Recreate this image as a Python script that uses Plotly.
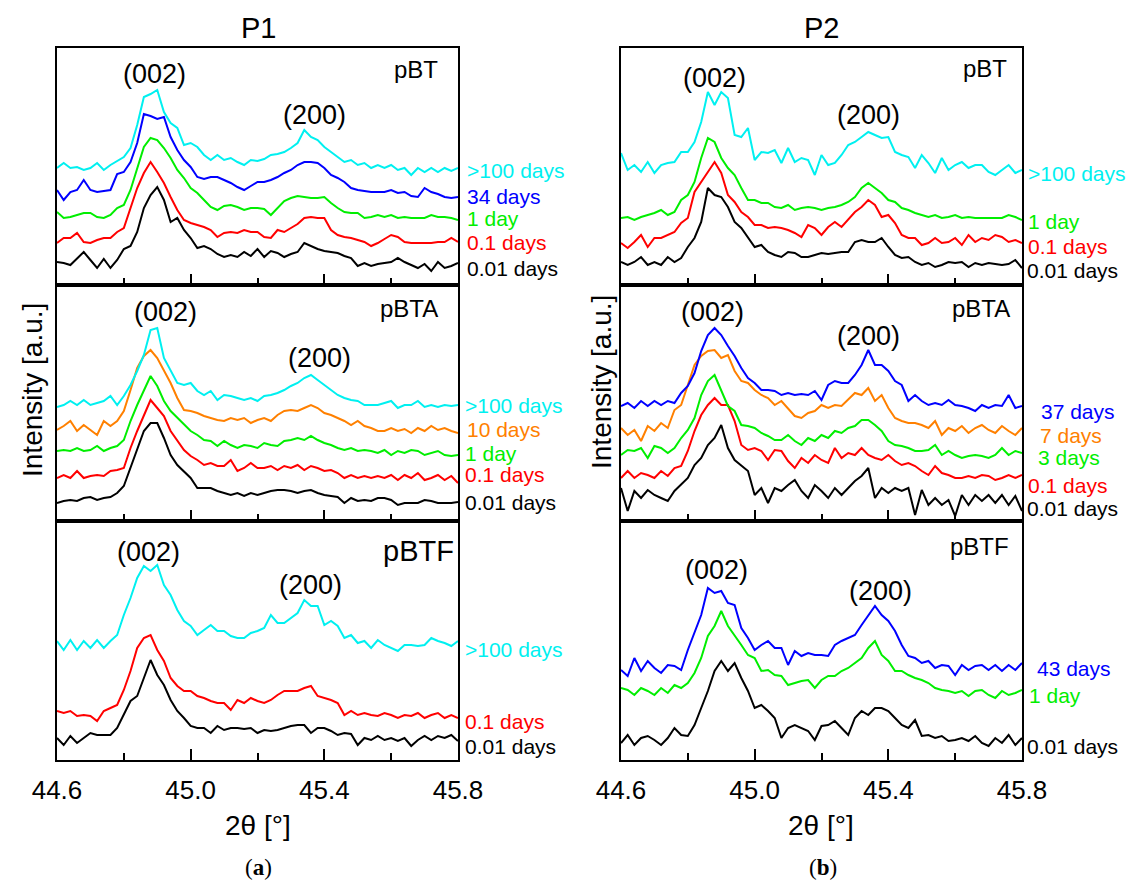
import plotly.graph_objects as go

W, H = 1142, 881

# 2-theta grid (degrees)
two_theta = [round(44.6 + 0.02 * i, 2) for i in range(61)]

# ---------------- P1 / pBT ----------------
p1_pbt_100d = [117,122,117,118,115,117,122,115,120,124,128,137,160,188,191,195,173,162,157,140,142,138,130,125,130,125,127,123,120,125,124,126,130,131,133,137,142,155,148,145,138,133,128,123,125,120,122,117,120,117,120,115,117,110,117,113,117,113,117,114,117]
p1_pbt_34d = [95,85,93,95,105,95,93,94,95,111,113,123,142,171,169,166,168,148,135,125,118,108,106,108,108,105,102,98,95,99,103,103,105,108,112,115,120,123,123,122,117,110,107,103,97,95,94,93,93,93,95,92,93,89,88,97,93,91,88,87,88]
p1_pbt_1d = [73,67,68,70,72,72,68,67,70,77,80,95,117,138,147,145,137,127,115,107,97,92,85,78,75,79,80,78,75,77,77,76,70,77,84,87,89,88,87,87,88,82,77,73,72,72,67,68,70,68,70,67,68,67,67,67,70,68,68,67,65]
p1_pbt_01d = [42,47,47,52,43,42,45,47,47,53,57,77,97,112,123,113,102,88,75,65,62,60,58,55,48,52,53,52,55,53,53,48,47,55,53,57,61,67,68,67,67,55,50,48,47,45,43,39,42,46,50,48,43,42,42,42,42,43,43,47,43]
p1_pbt_001d = [23,22,20,26,33,25,17,26,17,25,36,39,53,77,90,98,85,63,67,55,47,37,39,36,31,28,30,28,33,29,36,28,34,32,28,31,33,42,39,36,34,33,32,29,27,19,22,19,21,22,23,27,23,20,17,21,14,23,17,19,22]

# ---------------- P1 / pBTA ----------------
p1_pbta_100d = [114,116,120,116,121,116,118,120,125,116,125,136,150,166,191,193,163,150,138,136,138,130,126,130,121,126,125,123,121,123,120,125,126,128,131,135,138,143,146,141,136,131,126,123,121,120,116,116,116,118,120,113,116,116,120,114,116,114,116,115,116]
p1_pbta_10d = [91,95,100,90,96,91,86,100,95,100,110,131,153,165,171,163,150,138,123,111,110,108,105,103,101,100,103,101,103,98,101,103,100,106,110,111,110,113,116,113,108,106,103,100,96,100,95,93,90,90,93,90,92,88,93,90,95,91,93,90,88]
p1_pbta_1d = [70,71,70,73,70,71,75,70,73,75,81,100,116,131,145,135,120,110,103,96,90,86,81,80,75,80,76,73,76,75,73,78,76,75,80,81,83,81,85,81,78,76,73,71,73,70,71,70,68,71,66,70,68,71,70,66,68,70,66,65,66]
p1_pbta_01d = [43,46,43,50,43,45,46,45,50,51,53,73,90,106,121,113,105,90,80,71,65,61,56,58,55,55,61,50,53,58,53,53,55,51,55,53,56,51,55,53,50,51,48,43,46,43,45,43,45,43,46,41,46,43,48,41,43,46,41,45,38]
p1_pbta_001d = [18,20,21,20,23,24,21,23,24,28,35,53,71,90,98,98,83,66,56,50,43,33,33,33,30,28,26,28,25,28,26,28,30,31,31,30,28,30,31,28,26,25,24,18,23,20,21,20,23,23,21,16,18,18,18,21,20,18,18,18,19]

# ---------------- P1 / pBTF ----------------
p1_pbtf_100d = [119,110,120,110,119,112,120,112,119,125,145,162,182,194,189,195,175,165,150,139,134,125,130,135,129,129,124,122,122,127,129,132,145,137,137,142,147,160,154,154,135,139,134,122,125,117,119,112,120,115,112,109,115,115,114,115,122,119,117,114,119]
p1_pbtf_01d = [49,47,49,44,45,44,39,49,52,55,70,89,112,122,125,110,99,82,74,69,69,64,62,59,57,57,50,60,57,62,59,57,60,65,69,69,69,72,74,64,62,60,57,45,49,45,47,45,44,47,45,42,45,44,47,42,45,47,42,45,42]
p1_pbtf_001d = [22,15,24,17,22,27,25,25,25,32,45,59,64,82,100,85,75,60,49,42,34,32,32,27,34,30,32,32,31,32,27,30,29,30,32,34,35,35,27,32,32,29,25,27,26,15,22,20,24,20,22,19,22,14,20,24,20,24,22,25,19]

# ---------------- P2 / pBT ----------------
p2_pbt_100d = [132,115,120,113,123,112,120,122,123,133,133,143,163,193,180,193,187,150,148,157,125,133,132,135,122,137,123,127,125,110,130,120,122,130,140,143,148,153,150,147,148,133,130,128,117,130,122,112,127,115,120,123,117,120,120,113,110,115,120,112,115]
p2_pbt_1d = [67,68,65,68,70,72,75,70,73,85,90,103,127,147,143,127,117,110,97,85,85,82,82,78,77,80,75,77,78,77,75,77,78,80,83,88,97,102,97,92,85,83,77,75,72,70,68,70,67,68,70,67,68,67,67,67,67,67,70,68,65]
p2_pbt_01d = [42,37,43,50,38,47,47,50,53,62,67,93,103,113,123,112,90,83,73,68,60,60,57,58,57,55,52,48,60,57,50,58,63,58,65,73,78,85,80,68,70,62,50,47,47,40,42,47,42,43,47,40,50,43,47,45,50,48,43,45,42]
p2_pbt_001d = [23,20,23,28,20,23,20,28,23,27,38,47,63,97,90,88,78,63,57,47,38,40,33,30,28,33,32,28,28,30,32,31,32,33,33,43,45,43,43,47,38,30,27,28,23,20,22,18,20,23,22,23,18,22,20,22,21,20,21,25,17]

# ---------------- P2 / pBTA ----------------
p2_pbta_37d = [115,118,113,120,115,120,116,120,118,128,135,148,170,186,193,186,175,165,153,143,138,131,131,130,126,128,126,127,126,130,121,136,140,138,138,146,156,171,156,156,150,140,136,120,126,120,116,118,116,121,116,115,113,110,116,113,116,115,126,113,115]
p2_pbta_7d = [93,86,91,80,95,90,98,93,111,116,136,156,165,170,171,163,166,150,140,138,131,126,123,116,120,113,105,103,108,110,116,113,116,115,121,128,126,133,120,126,113,103,100,98,98,96,93,100,86,93,90,95,88,93,96,91,88,95,90,86,93]
p2_pbta_3d = [66,71,70,73,63,75,73,68,73,83,91,103,126,140,146,130,115,110,96,95,93,88,85,81,81,86,80,76,83,80,86,83,90,88,93,95,101,101,96,90,80,76,75,73,70,70,71,76,66,70,66,63,65,66,65,63,66,73,66,70,68]
p2_pbta_01d = [43,50,43,48,46,43,50,45,53,55,70,90,106,116,123,116,116,100,76,71,73,70,61,71,70,60,53,63,58,66,61,58,73,63,68,66,73,66,63,61,66,60,56,58,55,50,46,55,48,46,43,43,45,43,46,45,41,43,46,43,46]
p2_pbta_001d = [33,10,30,23,31,26,23,20,30,36,43,56,63,76,83,96,73,61,55,50,26,33,18,33,30,36,41,30,23,36,30,23,33,26,33,40,45,53,23,33,28,33,30,33,6,31,16,23,16,21,5,26,16,26,20,26,18,26,16,25,10]

# ---------------- P2 / pBTF ----------------
p2_pbtf_43d = [90,84,102,89,99,92,87,95,94,90,110,127,145,172,167,169,157,155,132,122,110,115,119,112,112,95,109,104,107,105,105,104,115,119,122,125,135,144,154,145,139,129,115,104,102,97,99,92,95,94,85,95,90,94,95,90,95,89,95,90,97]
p2_pbtf_1d = [72,70,65,72,69,65,72,67,75,72,77,87,102,124,134,149,134,125,115,105,102,89,90,85,84,75,77,79,80,72,80,84,84,89,92,97,102,112,119,105,99,89,89,85,82,80,77,72,70,69,67,69,64,69,70,65,62,69,65,67,70]
p2_pbtf_001d = [17,25,15,22,24,20,15,22,32,25,24,35,52,69,89,99,89,97,82,69,52,55,49,42,22,32,35,32,29,20,34,35,39,32,25,42,49,45,52,52,49,42,35,32,40,24,25,22,24,19,20,22,19,24,17,14,22,17,25,15,22]

CYAN = "#00F0F0"
BLUE = "#0000FF"
GREEN = "#00EE00"
RED = "#FF0000"
BLACK = "#000000"
ORANGE = "#FF8000"

# panel index -> list of (series, color)
panels = {
    1: [(p1_pbt_001d, BLACK), (p1_pbt_01d, RED), (p1_pbt_1d, GREEN), (p1_pbt_34d, BLUE), (p1_pbt_100d, CYAN)],
    2: [(p1_pbta_001d, BLACK), (p1_pbta_01d, RED), (p1_pbta_1d, GREEN), (p1_pbta_10d, ORANGE), (p1_pbta_100d, CYAN)],
    3: [(p1_pbtf_001d, BLACK), (p1_pbtf_01d, RED), (p1_pbtf_100d, CYAN)],
    4: [(p2_pbt_001d, BLACK), (p2_pbt_01d, RED), (p2_pbt_1d, GREEN), (p2_pbt_100d, CYAN)],
    5: [(p2_pbta_001d, BLACK), (p2_pbta_01d, RED), (p2_pbta_3d, GREEN), (p2_pbta_7d, ORANGE), (p2_pbta_37d, BLUE)],
    6: [(p2_pbtf_001d, BLACK), (p2_pbtf_1d, GREEN), (p2_pbtf_43d, BLUE)],
}

# layout geometry (pixels)
col_x = {0: (49, 450), 1: (613, 1014)}
row_y = {0: (40, 277), 1: (277, 513), 2: (513, 752)}

fig = go.Figure()
for k, series in panels.items():
    for vals, col in series:
        fig.add_trace(go.Scatter(x=two_theta, y=vals, mode="lines",
                                 line=dict(color=col, width=2),
                                 xaxis=f"x{k}", yaxis=f"y{k}",
                                 hoverinfo="skip", showlegend=False))

FONT = "Liberation Sans, Arial, sans-serif"
layout = dict(width=W, height=H,
              margin=dict(l=0, r=0, t=0, b=0, pad=0, autoexpand=False),
              paper_bgcolor="white", plot_bgcolor="white", showlegend=False)

for k in range(1, 7):
    c = 0 if k <= 3 else 1
    r = (k - 1) % 3
    x0, x1 = col_x[c]
    y0, y1 = row_y[r]
    bottom = (r == 2)
    layout[f"xaxis{k}"] = dict(
        domain=[x0 / W, x1 / W], anchor=f"y{k}", range=[44.6, 45.8],
        automargin=False,
        showline=True, mirror=True, linecolor="black", linewidth=2,
        showgrid=False, zeroline=False,
        ticks="inside", ticklen=11, tickwidth=1.5, tickcolor="black",
        tickvals=[44.6, 45.0, 45.4, 45.8],
        ticktext=["44.6", "45.0", "45.4", "45.8"],
        showticklabels=bottom,
        tickfont=dict(family=FONT, size=26, color="black"),
        ticklabelstandoff=6,
        minor=dict(ticks="inside", ticklen=7, tickwidth=1.5, tickcolor="black",
                   tickvals=[44.8, 45.2, 45.6], showgrid=False),
    )
    layout[f"yaxis{k}"] = dict(
        domain=[1 - y1 / H, 1 - y0 / H], anchor=f"x{k}",
        range=[0, y1 - y0], automargin=False,
        showline=True, mirror=True, linecolor="black", linewidth=2,
        showgrid=False, zeroline=False, showticklabels=False, ticks="",
    )

fig.update_layout(**layout)

def ann(text, x, y, size, color="black", xanchor="center", family=FONT, angle=0):
    fig.add_annotation(text=text, x=x / W, y=1 - y / H, xref="paper", yref="paper",
                       showarrow=False, xanchor=xanchor, yanchor="middle",
                       textangle=angle,
                       font=dict(family=family, size=size, color=color))

# column titles
ann("P1", 250, 20, 29)
ann("P2", 813, 20, 29)

# axis titles
ann("2θ [°]", 250, 817, 28)
ann("2θ [°]", 813, 817, 28)
ann("Intensity [a.u.]", 25, 382, 28, angle=-90)
ann("Intensity [a.u.]", 594, 374, 28, angle=-90)

# sub-figure letters
ann("(<b>a</b>)", 250, 859, 23, family="Liberation Serif, serif")
ann("(<b>b</b>)", 815, 859, 23, family="Liberation Serif, serif")

# peak labels
peak_labels = [
    ("(002)", 146, 66), ("(200)", 306, 107),
    ("(002)", 157, 304), ("(200)", 312, 350),
    ("(002)", 140, 544), ("(200)", 302, 577),
    ("(002)", 706, 70), ("(200)", 860, 107),
    ("(002)", 704, 304), ("(200)", 860, 328),
    ("(002)", 708, 562), ("(200)", 872, 583),
]
for t, x, y in peak_labels:
    ann(t, x, y, 27)

# sample labels (right-aligned near upper-right corner)
ann("pBT", 432, 62, 24, xanchor="right")
ann("pBTA", 432, 300, 24, xanchor="right")
ann("pBTF", 448, 543, 29, xanchor="right")
ann("pBT", 1001, 60, 24, xanchor="right")
ann("pBTA", 1004, 300, 24, xanchor="right")
ann("pBTF", 1003, 538, 24, xanchor="right")

# curve labels
curve_labels = [
    (">100 days", CYAN, 457, 162), ("34 days", BLUE, 457, 188), ("1 day", GREEN, 457, 210),
    ("0.1 days", RED, 457, 234), ("0.01 days", BLACK, 457, 260),
    (">100 days", CYAN, 455, 397), ("10 days", ORANGE, 457, 422), ("1 day", GREEN, 455, 445),
    ("0.1 days", RED, 455, 467), ("0.01 days", BLACK, 455, 494),
    (">100 days", CYAN, 455, 641), ("0.1 days", RED, 455, 713), ("0.01 days", BLACK, 455, 738),
    (">100 days", CYAN, 1018, 166), ("1 day", GREEN, 1018, 213),
    ("0.1 days", RED, 1018, 239), ("0.01 days", BLACK, 1017, 263),
    ("37 days", BLUE, 1031, 403), ("7 days", ORANGE, 1030, 427), ("3 days", GREEN, 1028, 449),
    ("0.1 days", RED, 1018, 477), ("0.01 days", BLACK, 1017, 500),
    ("43 days", BLUE, 1027, 660), ("1 day", GREEN, 1019, 687), ("0.01 days", BLACK, 1017, 738),
]
for t, col, x, y in curve_labels:
    ann(t, x, y, 21, color=col, xanchor="left")

fig.write_html("out.html")
